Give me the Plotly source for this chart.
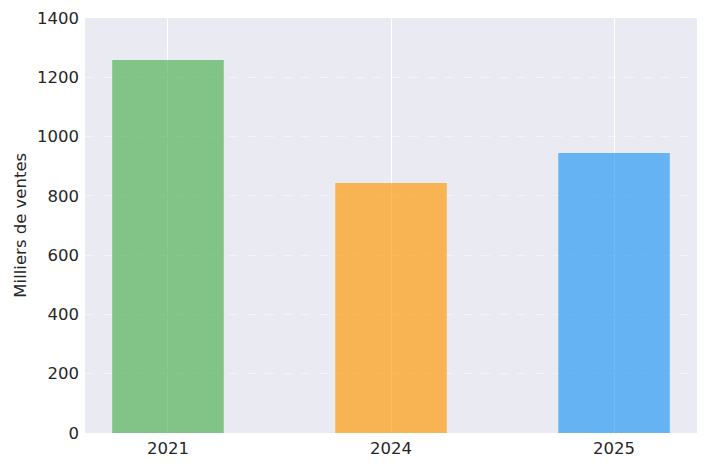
import plotly.graph_objects as go

# data
years = ["2021", "2024", "2025"]
sales = [1258, 843, 945]
colors = ["rgba(76,175,80,0.66)", "rgba(255,152,0,0.66)", "rgba(33,150,243,0.66)"]

fig = go.Figure()
fig.add_trace(go.Bar(x=years, y=sales, marker=dict(color=colors, line=dict(width=0)),
                     width=0.5))

font = dict(family="DejaVu Sans", size=16.5, color="#262626")
# page body has an 8px margin, so the figure is sized/offset for that
fig.update_layout(
    width=701, height=461,
    margin=dict(l=77, r=12, t=10, b=36, autoexpand=False),
    paper_bgcolor="white",
    plot_bgcolor="#EAEAF2",
    showlegend=False,
    font=font,
)
fig.update_xaxes(
    type="category", range=[-0.372, 2.372],
    showgrid=True, gridcolor="white", gridwidth=1.2,
    ticks="", tickfont=font, ticklabelstandoff=3,
    showline=False, zeroline=False, automargin=False,
)
fig.update_yaxes(
    range=[0, 1400], dtick=200,
    showgrid=True, gridcolor="rgba(255,255,255,0.5)", gridwidth=1, griddash="dash",
    ticks="", tickfont=font, ticklabelstandoff=5,
    zeroline=False, showline=False, automargin=False,
)
# y title as rotated text
fig.add_annotation(text="Milliers de ventes", xref="paper", yref="paper",
                   x=-0.106, y=0.5, xanchor="center", yanchor="middle",
                   textangle=-90, showarrow=False, font=font)
fig.write_html("out.html")
